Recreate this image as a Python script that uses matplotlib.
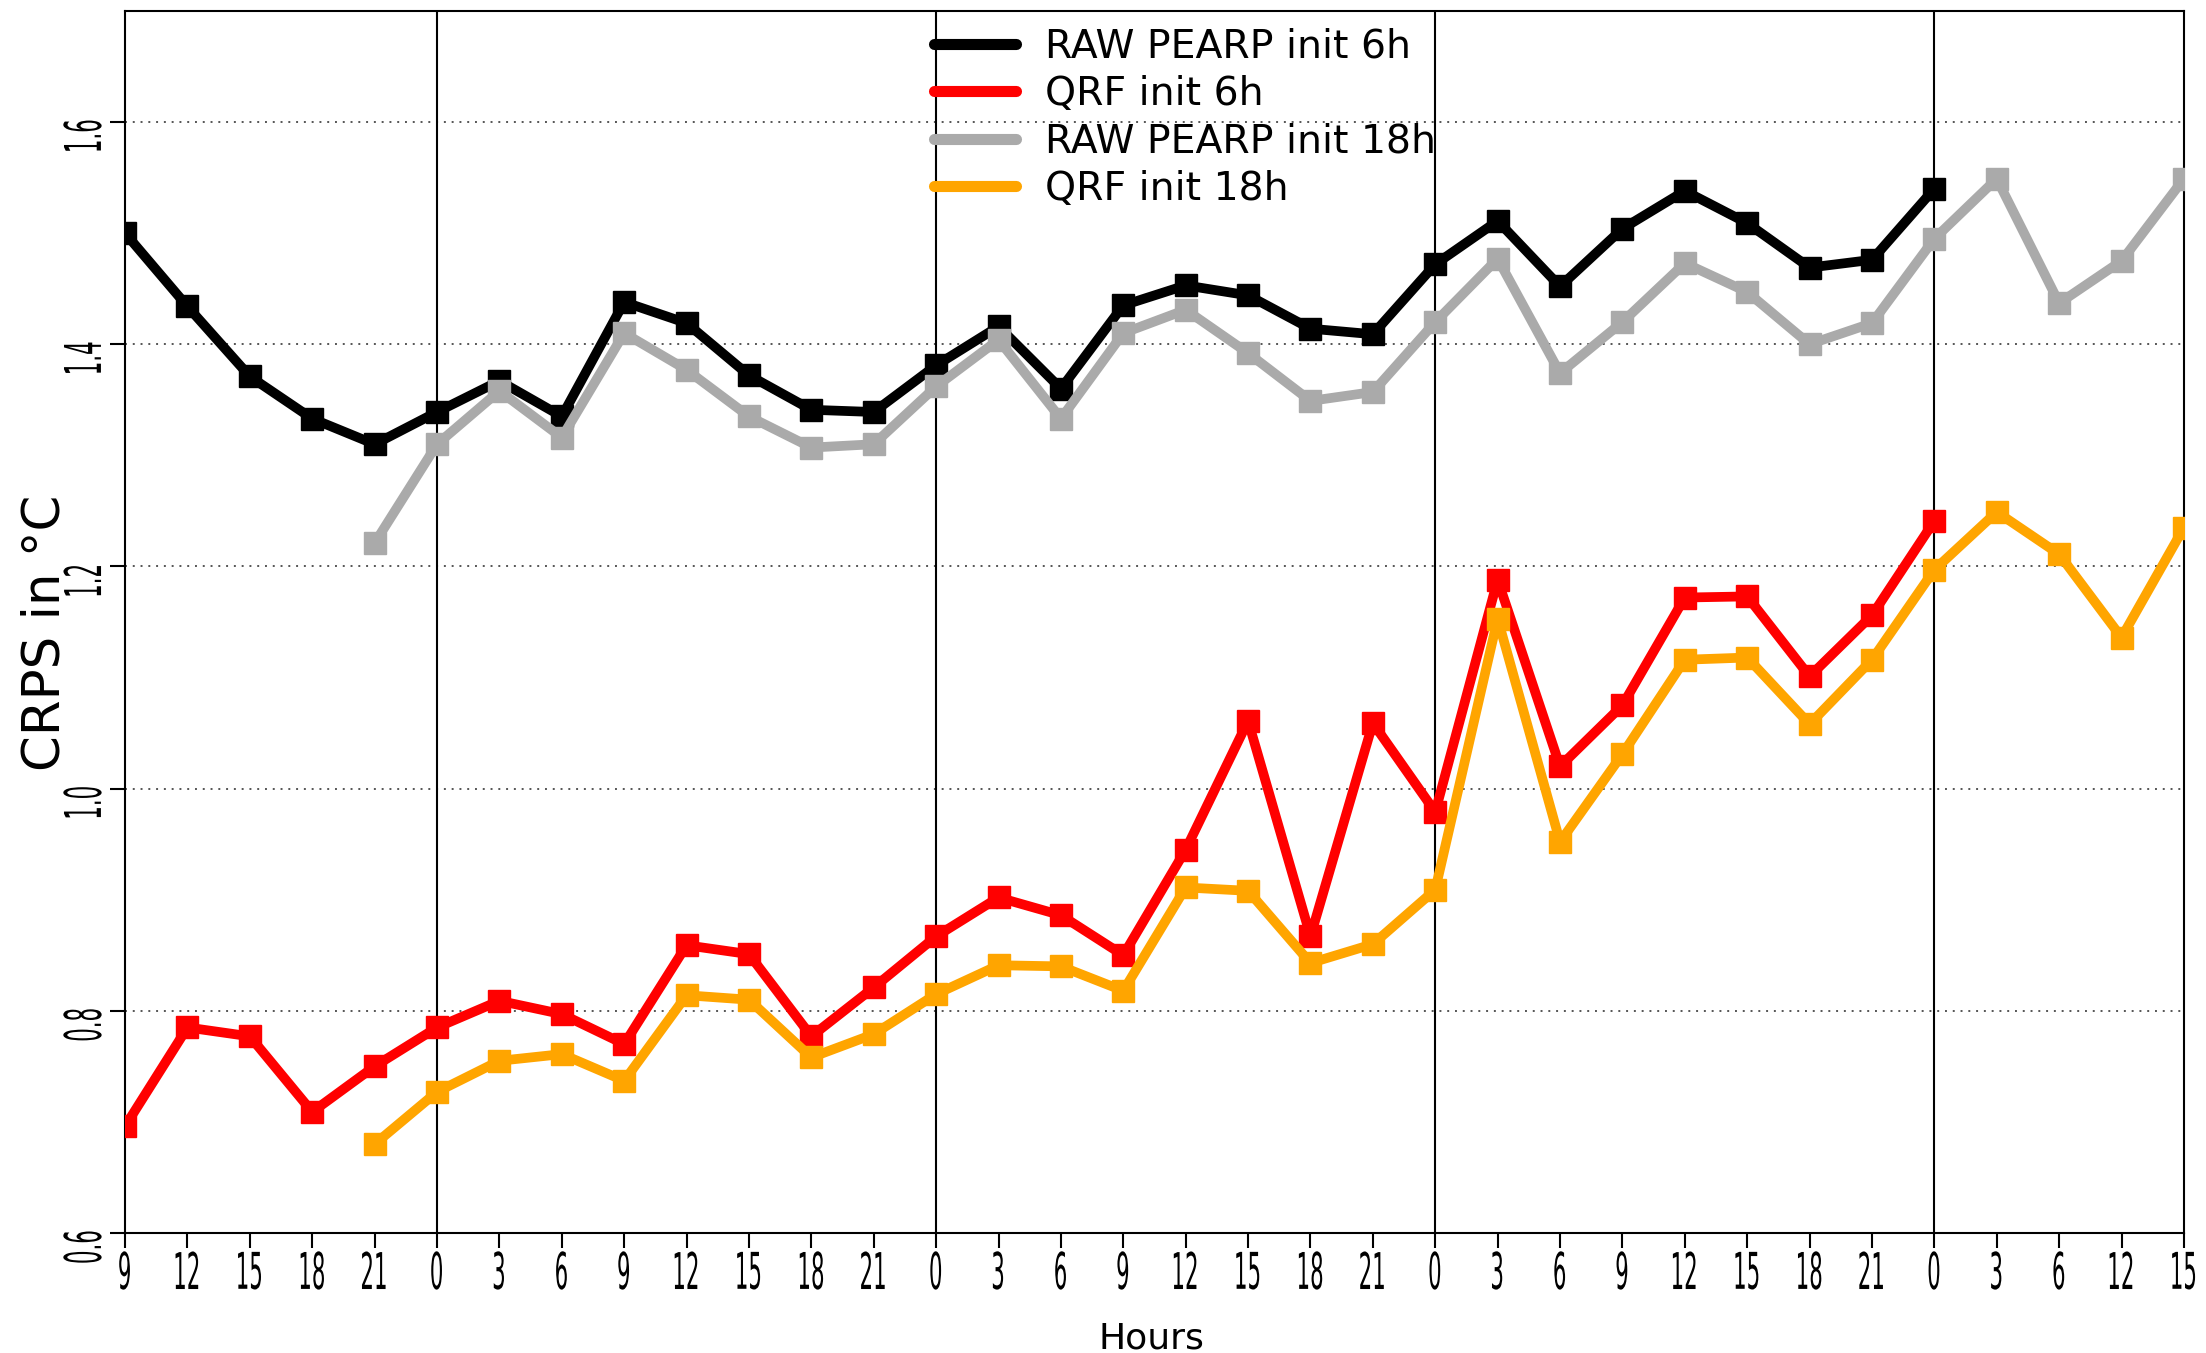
import numpy as np
import matplotlib
matplotlib.use('Agg')
import matplotlib.pyplot as plt
from matplotlib import patheffects
from matplotlib.transforms import Affine2D
from matplotlib.lines import Line2D

# lead time labels (hour of day)
hours = ['9', '12', '15', '18', '21', '0', '3', '6', '9', '12', '15', '18', '21',
         '0', '3', '6', '9', '12', '15', '18', '21', '0', '3', '6', '9', '12',
         '15', '18', '21', '0', '3', '6', '12', '15']

# init 6h runs, starting at the first label
raw_6h = [1.500, 1.434, 1.371, 1.333, 1.310, 1.339, 1.367, 1.335, 1.438, 1.419,
          1.372, 1.341, 1.339, 1.381, 1.416, 1.360, 1.435, 1.453, 1.444, 1.414,
          1.409, 1.472, 1.511, 1.452, 1.504, 1.538, 1.509, 1.469, 1.476, 1.540]
qrf_6h = [0.696, 0.785, 0.777, 0.709, 0.750, 0.785, 0.809, 0.797, 0.770, 0.859,
          0.851, 0.777, 0.821, 0.867, 0.902, 0.886, 0.850, 0.945, 1.061, 0.867,
          1.059, 0.979, 1.188, 1.020, 1.075, 1.172, 1.173, 1.101, 1.156, 1.241]

# init 18h runs, starting at the 5th label (21h)
start_18h = 4
raw_18h = [1.221, 1.310, 1.358, 1.316, 1.410, 1.377, 1.335, 1.307, 1.310, 1.362,
           1.404, 1.333, 1.410, 1.431, 1.392, 1.349, 1.357, 1.420, 1.477, 1.374,
           1.420, 1.473, 1.447, 1.400, 1.419, 1.495, 1.549, 1.437, 1.475, 1.549]
qrf_18h = [0.680, 0.727, 0.755, 0.761, 0.737, 0.814, 0.810, 0.758, 0.779, 0.815,
           0.841, 0.840, 0.818, 0.911, 0.908, 0.843, 0.860, 0.909, 1.153, 0.952,
           1.031, 1.116, 1.118, 1.058, 1.116, 1.197, 1.249, 1.211, 1.136, 1.235]

labels = ['RAW PEARP init 6h', 'QRF init 6h', 'RAW PEARP init 18h', 'QRF init 18h']
colors = ['black', '#ff0000', '#aaaaaa', '#ffa500']
yticks = [0.6, 0.8, 1.0, 1.2, 1.4, 1.6]


class Squeeze(patheffects.AbstractPathEffect):
    # narrow tall tick label glyphs, like the original device font
    def __init__(self, sx, sy=1.0):
        super().__init__()
        self.sx, self.sy = sx, sy

    def draw_path(self, renderer, gc, tpath, affine, rgbFace=None):
        v = tpath.vertices
        cx = (v[:, 0].min() + v[:, 0].max()) / 2
        cy = (v[:, 1].min() + v[:, 1].max()) / 2
        sq = Affine2D().translate(-cx, -cy).scale(self.sx, self.sy).translate(cx, cy)
        renderer.draw_path(gc, tpath, sq + affine, rgbFace)


plt.rcParams['font.family'] = ['DejaVu Sans']

fig = plt.figure(figsize=(22.06, 13.53), dpi=100)
ax = fig.add_axes([0.0567, 0.0887, 0.9333, 0.9032])

x_6h = np.arange(len(raw_6h))
x_18h = np.arange(start_18h, start_18h + len(raw_18h))
series = [(x_6h, raw_6h), (x_6h, qrf_6h), (x_18h, raw_18h), (x_18h, qrf_18h)]

# grid
for y in yticks[1:]:
    ax.axhline(y, color='#555555', lw=1.4, ls=(0, (1, 3)), zorder=1)
for i, h in enumerate(hours):
    if h == '0':
        ax.axvline(i, color='black', lw=1.5, zorder=1)

for (xs, ys), c in zip(series, colors):
    ax.plot(xs, ys, color=c, lw=7, marker='s', markersize=16, zorder=3)

ax.set_xlim(0, len(hours) - 1)
ax.set_ylim(0.6, 1.70)
ax.set_xticks(np.arange(len(hours)))
ax.set_xticklabels(hours)
ax.set_yticks(yticks)
ax.set_yticklabels(['%.1f' % v for v in yticks])

ax.tick_params(axis='both', direction='out', length=11, width=1.5, labelsize=24)
ax.tick_params(axis='x', pad=6)
ax.tick_params(axis='y', pad=5.9, labelrotation=90)
for t in ax.get_xticklabels() + ax.get_yticklabels():
    t.set_path_effects([Squeeze(0.64, 1.52)])
for s in ax.spines.values():
    s.set_linewidth(1.5)

fig.text(0.0205, 0.532, 'CRPS in °C', rotation=90, fontsize=37, ha='center', va='center')
fig.text(0.522, 0.011, 'Hours', fontsize=26, ha='center', va='center')

handles = [Line2D([], [], color=c, lw=8, solid_capstyle='round') for c in colors]
ax.legend(handles, labels, loc='upper left', bbox_to_anchor=(0.4235, 0.9795),
          bbox_transform=fig.transFigure, frameon=False, fontsize=28.4,
          handlelength=2.08, handletextpad=0.74, labelspacing=0.24,
          borderpad=0, borderaxespad=0)

fig.savefig('out.png', dpi=100)
